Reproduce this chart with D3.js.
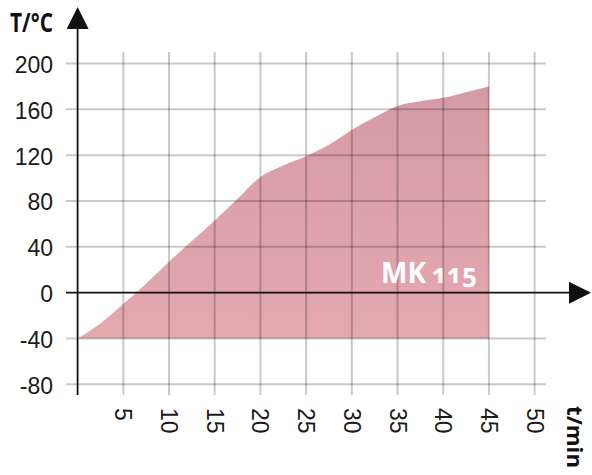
<!DOCTYPE html>
<html><head><meta charset="utf-8">
<script src="https://cdn.jsdelivr.net/npm/d3@7"></script>
<style>html,body{margin:0;padding:0;background:#fff;}svg{display:block;}</style>
</head><body>
<svg id="c" width="592" height="475"></svg>
<script>
const times = [0,2.5,5,7.5,10,12.5,15,17.5,20,22.5,25,27.5,30,32.5,35,37.5,40,42.5,45];
const temps = [-40,-27,-10,8,27,45,63,82,101,111,119,129,142,153,163,167,170,175,180];
const xTicks = [5,10,15,20,25,30,35,40,45,50];
const yTicks = [-80,-40,0,40,80,120,160,200];
const seriesName = "MK";
const seriesNum = "115";

const svg = d3.select("#c");
const x = d3.scaleLinear([0,50],[77.6,534.6]);
const y = d3.scaleLinear([-80,200],[384.3,63.5]);
const data = times.map((t,i)=>({t, v: temps[i]}));

const defs = svg.append("defs");
const g = defs.append("linearGradient").attr("id","fillg").attr("x1",0).attr("y1",0).attr("x2",0).attr("y2",1);
g.append("stop").attr("offset","0%").attr("stop-color","#d59ba4");
g.append("stop").attr("offset","100%").attr("stop-color","#e4a8af");

// area
const area = d3.area().x(d=>x(d.t)).y0(y(-40)).y1(d=>y(d.v)).curve(d3.curveMonotoneX);
svg.append("path").datum(data).attr("d",area).attr("fill","url(#fillg)");

// grid
const gridC = "rgba(0,0,0,0.21)";
svg.append("g").selectAll("line").data(yTicks.filter(v=>v!==0)).join("line")
  .attr("x1",66).attr("x2",546).attr("y1",d=>y(d)).attr("y2",d=>y(d))
  .attr("stroke",gridC).attr("stroke-width",2);
svg.append("g").selectAll("line").data(xTicks).join("line")
  .attr("x1",d=>x(d)).attr("x2",d=>x(d)).attr("y1",52).attr("y2",395)
  .attr("stroke",gridC).attr("stroke-width",2);

// axes
svg.append("line").attr("x1",x(0)).attr("x2",x(0)).attr("y1",25).attr("y2",395).attr("stroke","#111").attr("stroke-width",1.8);
svg.append("path").attr("d",`M${x(0)},7 L${x(0)-11},29 L${x(0)+11},29 Z`).attr("fill","#111");
svg.append("line").attr("x1",66).attr("x2",572).attr("y1",y(0)).attr("y2",y(0)).attr("stroke","#111").attr("stroke-width",1.8);
svg.append("path").attr("d",`M591,${y(0)} L569,${y(0)-11} L569,${y(0)+11} Z`).attr("fill","#111");

// y labels
svg.append("g").selectAll("text").data(yTicks).join("text")
  .attr("x",53).attr("y",d=>y(d)+9.5).attr("text-anchor","end")
  .attr("font-family","Liberation Sans, Arial, sans-serif").attr("font-size",23).attr("fill","#1a1a1a")
  .text(d=>d);
// x labels
svg.append("g").selectAll("text").data(xTicks).join("text")
  .attr("transform",d=>`translate(${x(d)-8},408) rotate(90)`)
  .attr("font-family","Liberation Sans, Arial, sans-serif").attr("font-size",23).attr("fill","#1a1a1a")
  .text(d=>d);

// axis titles
svg.append("text").attr("x",10).attr("y",32).attr("font-family","Open Sans, sans-serif").attr("font-weight",700)
  .attr("font-size",27).attr("textLength",43).attr("lengthAdjust","spacingAndGlyphs").attr("fill","#111").text("T/°C");
svg.append("text").attr("transform","translate(567,406) rotate(90)").attr("font-family","Open Sans, sans-serif").attr("font-weight",700)
  .attr("font-size",22).attr("textLength",62).attr("lengthAdjust","spacingAndGlyphs").attr("fill","#111").text("t/min");

// series label
const lab = svg.append("text").attr("x",381).attr("y",283).attr("font-family","Open Sans, sans-serif").attr("font-weight",700).attr("fill","#fff")
  .style("font-variant-numeric","oldstyle-nums");
lab.append("tspan").attr("font-size",28).text(seriesName);
lab.append("tspan").attr("font-size",26).attr("dx",6).text(seriesNum);
</script>
</body></html>
